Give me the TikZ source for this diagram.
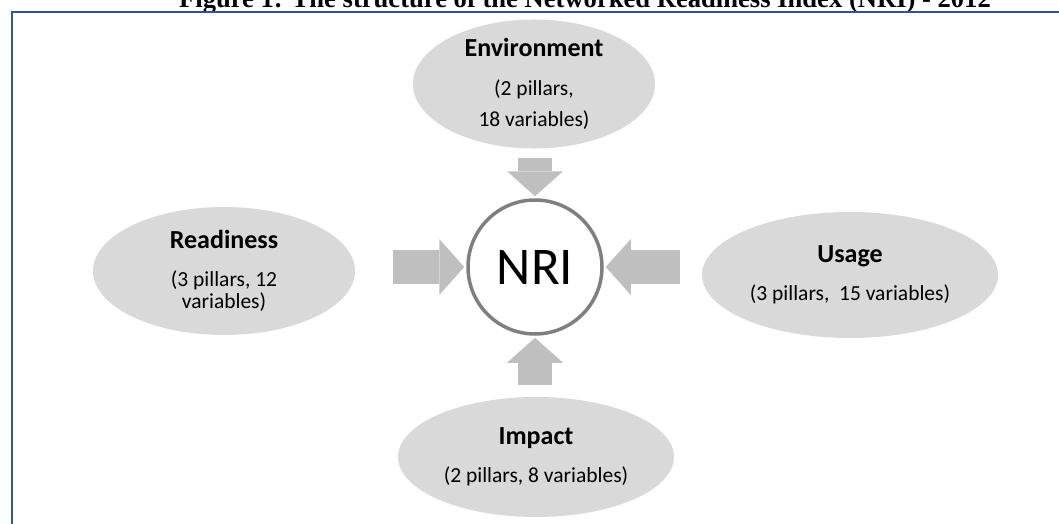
\documentclass[tikz,border=0pt]{standalone}
\usepackage{fontspec}
\setmainfont{Carlito}
\newfontfamily\capfont{Liberation Serif}
\usetikzlibrary{shapes.geometric,arrows.meta}

\definecolor{pillarfill}{HTML}{D9D9D9}
\definecolor{arrowgrey}{HTML}{BFBFBF}
\definecolor{ringgrey}{HTML}{7F7F7F}
\definecolor{frameblue}{HTML}{2F5597}
\newcommand\pillarhead[1]{{\fontsize{26}{28}\selectfont\bfseries #1}}

\begin{document}
\begin{tikzpicture}[x=1pt,y=-1pt,
  pillar/.style={ellipse, fill=pillarfill, inner sep=0pt, align=center,
    font=\fontsize{21.5}{22}\selectfont},
  push/.style={arrowgrey, line width=34pt, shorten >=2pt,
    -{Triangle[length=25pt,width=56pt,line width=0pt]}}]
\useasboundingbox (0,0) rectangle (1059,524);
\clip (0,0) rectangle (1059,524);

\node[anchor=base, font=\capfont\bfseries\fontsize{26.6}{30}\selectfont] (title) at (585,8)
  {Figure 1: The structure of the Networked Readiness Index (NRI) - 2012};
\draw[frameblue, line width=2.5pt] (12,530) |- (1070,12);

\node[pillar, minimum width=242, minimum height=128] (env) at (534,84)
  {\pillarhead{Environment}\\[17pt] (2 pillars,\\[9pt] 18 variables)};
\node[pillar, minimum width=262, minimum height=128] (ready) at (224,271)
  {\pillarhead{Readiness}\\[16pt] (3 pillars, 12\\ variables)};
\node[pillar, minimum width=296, minimum height=126] (use) at (850,275)
  {\pillarhead{Usage}\\[16pt] (3 pillars,\ \ 15 variables)};
\node[pillar, minimum width=276, minimum height=120] (impact) at (536,457)
  {\pillarhead{Impact}\\[16pt] (2 pillars, 8 variables)};

\node[circle, draw=ringgrey, fill=white, line width=3.5pt, minimum size=134,
  inner sep=0pt, font=\fontsize{53}{60}\selectfont] (nri) at (535,267) {NRI};

\coordinate (fromenv) at (535,158);
\coordinate (fromready) at (393,267);
\coordinate (fromuse) at (680,267);
\coordinate (fromimpact) at (535,385);
\draw[push] (fromenv) -- (nri.north);
\draw[push] (fromready) -- (nri.west);
\draw[push] (fromuse) -- (nri.east);
\draw[push] (fromimpact) -- (nri.south);
\end{tikzpicture}
\end{document}
